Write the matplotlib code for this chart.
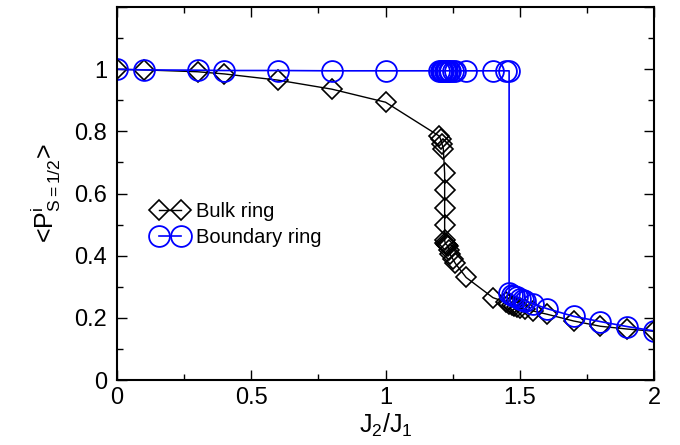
import numpy as np
import matplotlib.pyplot as plt
from matplotlib.ticker import MultipleLocator

plt.rcParams['font.family'] = ['Liberation Sans', 'DejaVu Sans']
plt.rcParams['mathtext.fontset'] = 'custom'
plt.rcParams['mathtext.rm'] = 'Liberation Sans'
plt.rcParams['mathtext.it'] = 'Liberation Sans'

# bulk ring data
bulk_x = [0, 0.1, 0.3, 0.4, 0.6, 0.8, 1.0, 1.2, 1.205, 1.21, 1.215,
          1.22, 1.22, 1.22, 1.22, 1.22, 1.222, 1.225, 1.228, 1.23, 1.233,
          1.236, 1.24, 1.25, 1.26, 1.3, 1.4, 1.45, 1.46, 1.47, 1.48,
          1.49, 1.5, 1.52, 1.55, 1.6, 1.7, 1.8, 1.9, 2.0]
bulk_y = [1.0, 0.998, 0.992, 0.985, 0.965, 0.936, 0.894, 0.785, 0.775, 0.76, 0.745,
          0.665, 0.61, 0.555, 0.5, 0.45, 0.44, 0.437, 0.435, 0.433, 0.43,
          0.42, 0.405, 0.39, 0.375, 0.33, 0.265, 0.25, 0.245, 0.24, 0.237,
          0.234, 0.231, 0.227, 0.222, 0.212, 0.19, 0.173, 0.164, 0.157]

# boundary ring data
bnd_x = [0, 0.1, 0.3, 0.4, 0.6, 0.8, 1.0, 1.2, 1.205, 1.21, 1.215,
         1.22, 1.225, 1.23, 1.235, 1.24, 1.25, 1.26, 1.3, 1.4, 1.45,
         1.46, 1.46, 1.47, 1.48, 1.49, 1.5, 1.51, 1.52, 1.55, 1.6,
         1.7, 1.8, 1.9, 2.0]
bnd_y = [1.0, 0.998, 0.997, 0.996, 0.996, 0.995, 0.995, 0.995, 0.995, 0.995, 0.995,
         0.995, 0.995, 0.995, 0.995, 0.995, 0.995, 0.995, 0.995, 0.995, 0.995,
         0.995, 0.28, 0.275, 0.27, 0.266, 0.262, 0.258, 0.255, 0.245, 0.23,
         0.205, 0.188, 0.172, 0.158]

fig = plt.figure(figsize=(6.8, 4.45), dpi=100)
ax = fig.add_axes([0.172, 0.146, 0.79, 0.838])

ax.plot(bulk_x, bulk_y, color='black', lw=1.0, marker='D', ms=10,
        mfc='none', mec='black', mew=1.2, label='Bulk ring')
ax.plot(bnd_x, bnd_y, color='#0000ff', lw=1.2, marker='o', ms=15,
        mfc='none', mec='#0000ff', mew=1.3, label='Boundary ring')

ax.set_xlim(0, 2)
ax.set_ylim(0, 1.2)
ax.xaxis.set_minor_locator(MultipleLocator(0.25))
ax.yaxis.set_minor_locator(MultipleLocator(0.1))
ax.set_xticks([0, 0.5, 1, 1.5, 2])
ax.set_xticklabels(['0', '0.5', '1', '1.5', '2'])
ax.set_yticks([0, 0.2, 0.4, 0.6, 0.8, 1.0, 1.2])
ax.set_yticklabels(['0', '0.2', '0.4', '0.6', '0.8', '1', ''])
ax.tick_params(which='both', direction='in', top=True, right=True,
               labelsize=17, width=1.0)
ax.tick_params(axis='x', pad=5)
ax.tick_params(axis='y', pad=7)
ax.tick_params(which='major', length=7)
ax.tick_params(which='minor', length=4)
for s in ax.spines.values():
    s.set_linewidth(1.5)

ax.set_xlabel(r'J$_{\rm 2}$/J$_{\rm 1}$', fontsize=18, labelpad=2)
ax.set_ylabel(r'<P$^{\rm i}_{\rm S{=}1/2}$>', fontsize=18, labelpad=8)

ax.legend(loc='upper left', bbox_to_anchor=(0.052, 0.5), frameon=False,
          numpoints=2, handlelength=1.7, handletextpad=0.45, fontsize=14.5,
          borderaxespad=0, labelspacing=0.35)

plt.savefig('out.png', dpi=100)
